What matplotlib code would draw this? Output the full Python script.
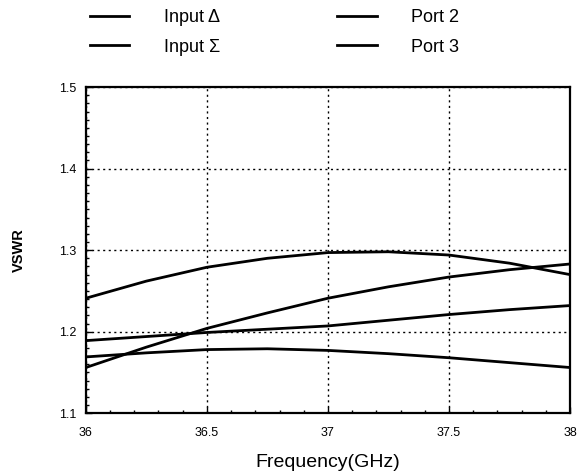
import numpy as np
import matplotlib
matplotlib.use('Agg')
import matplotlib.pyplot as plt
from matplotlib.ticker import MultipleLocator, FuncFormatter

plt.rcParams['font.family'] = ['Liberation Sans', 'DejaVu Sans']

freq = [36.0, 36.25, 36.5, 36.75, 37.0, 37.25, 37.5, 37.75, 38.0]

# VSWR curves
input_delta = [1.241, 1.262, 1.279, 1.290, 1.297, 1.298, 1.294, 1.284, 1.270]
input_sigma = [1.156, 1.181, 1.204, 1.223, 1.241, 1.255, 1.267, 1.276, 1.283]
port2 = [1.189, 1.194, 1.199, 1.203, 1.207, 1.214, 1.221, 1.227, 1.232]
port3 = [1.169, 1.174, 1.178, 1.179, 1.177, 1.173, 1.168, 1.162, 1.156]

# column-wise fill: col 1 = Input Δ / Input Σ, col 2 = Port 2 / Port 3
labels = ['Input \u0394', 'Input \u03a3', 'Port 2', 'Port 3']
series = [input_delta, input_sigma, port2, port3]

fig = plt.figure(figsize=(5.84, 4.76), dpi=100)
ax = fig.add_axes([0.147, 0.132, 0.829, 0.685])

lines = []
for vals, lab in zip(series, labels):
    ln, = ax.plot(freq, vals, color='black', linewidth=2.0, label=lab)
    lines.append(ln)

ax.set_xlim(36, 38)
ax.set_ylim(1.1, 1.5)
ax.xaxis.set_major_locator(MultipleLocator(0.5))
ax.xaxis.set_minor_locator(MultipleLocator(0.1))
ax.yaxis.set_major_locator(MultipleLocator(0.1))
ax.yaxis.set_minor_locator(MultipleLocator(0.01))
ax.xaxis.set_major_formatter(FuncFormatter(lambda v, p: f'{v:g}'))
ax.yaxis.set_major_formatter(FuncFormatter(lambda v, p: f'{v:.1f}'))

ax.tick_params(which='both', direction='in', labelsize=9, length=4, width=1)
ax.tick_params(which='minor', length=2)
ax.tick_params(axis='x', pad=10)
ax.tick_params(axis='y', pad=7)

ax.grid(True, which='major', color='black', linestyle=(0, (1.5, 2.5)), linewidth=1)
for sp in ax.spines.values():
    sp.set_linewidth(1.6)

ax.set_ylabel('VSWR', fontsize=10.5, fontweight='bold', labelpad=24)
ax.set_xlabel('Frequency(GHz)', fontsize=14, labelpad=11)

fig.legend(handles=lines, labels=labels, ncol=2, frameon=False,
           loc='upper center', bbox_to_anchor=(0.47, 1.015),
           fontsize=13, handlelength=2.2, handletextpad=1.9,
           columnspacing=6.5, labelspacing=0.7)

fig.savefig('out.png', dpi=100)
